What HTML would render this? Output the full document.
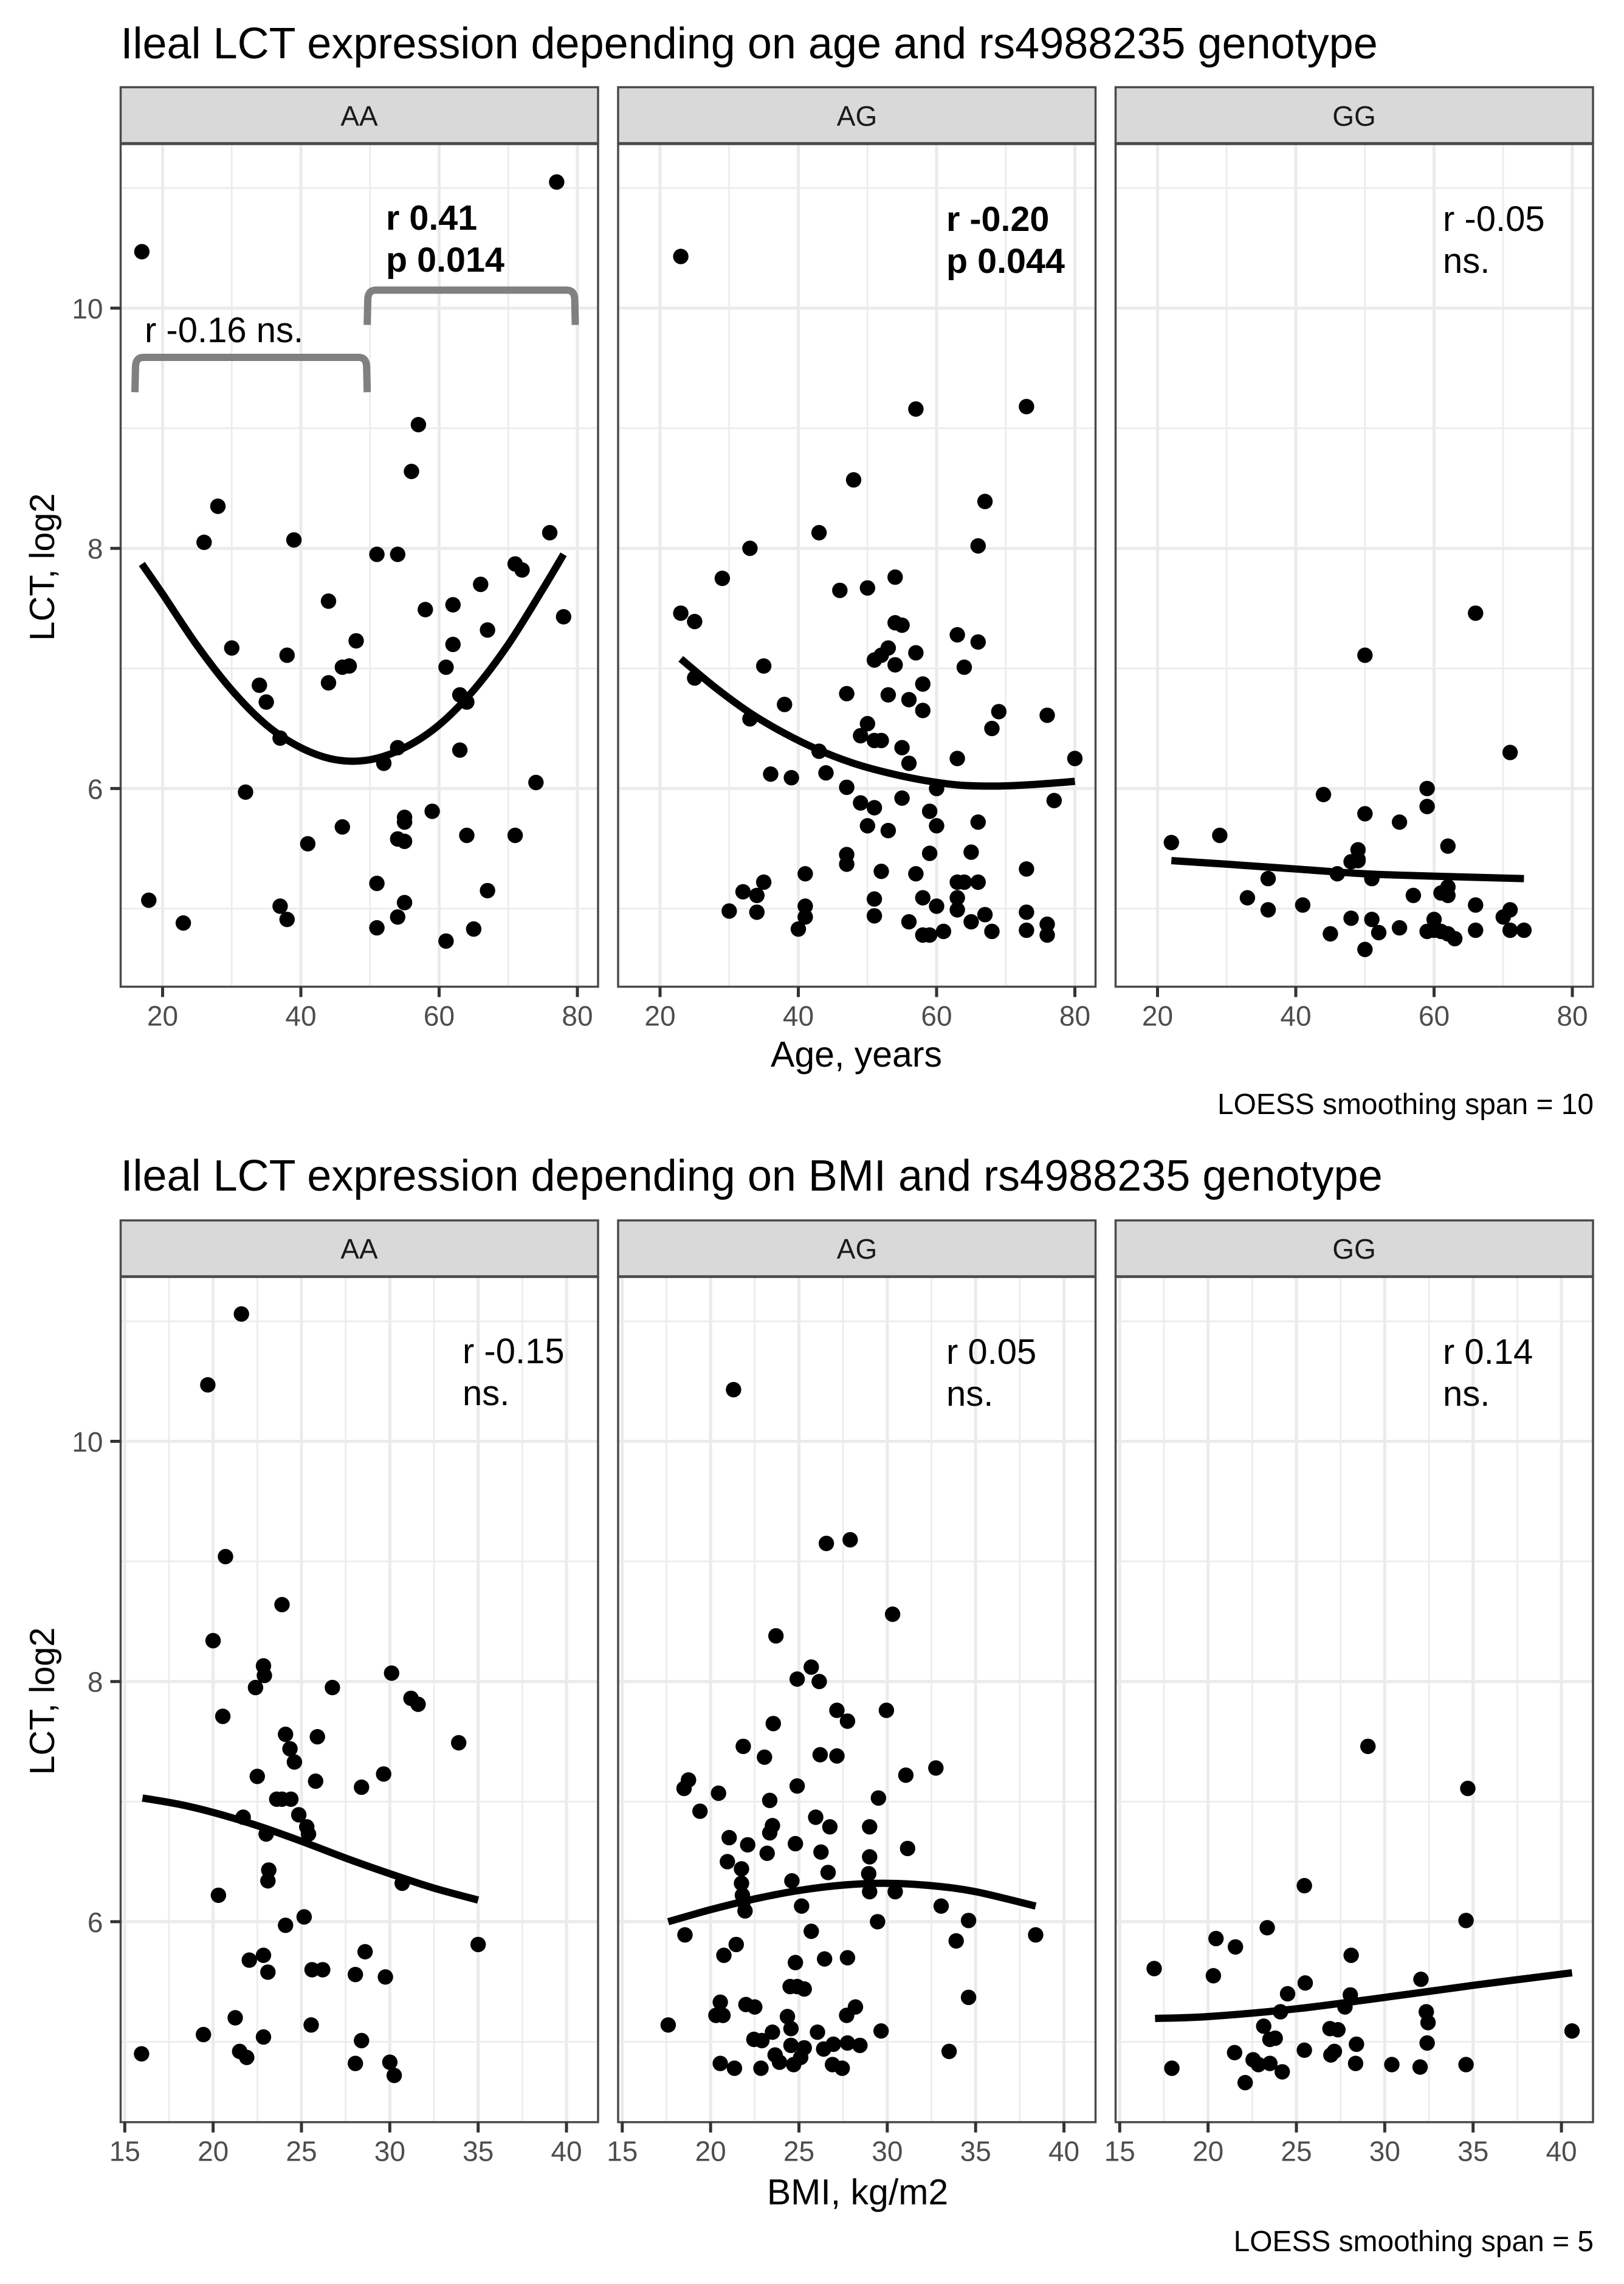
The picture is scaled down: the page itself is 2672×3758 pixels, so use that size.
<!DOCTYPE html>
<html lang="en">
<head>
<meta charset="utf-8">
<title>Ileal LCT expression by age and BMI and rs4988235 genotype</title>
<style>
html,body{margin:0;padding:0;background:#fff;}
svg{display:block;}
text{font-family:"Liberation Sans",Arial,sans-serif;}
.title{font-size:72px;fill:#000;}
.strip-label{font-size:46px;fill:#1a1a1a;text-anchor:middle;}
.axis-title{font-size:59px;fill:#000;}
.y-title{font-size:57.5px;fill:#000;}
.caption{font-size:47.9px;fill:#000;text-anchor:end;}
.note{font-size:58px;fill:#000;}
.note-bold{font-size:57.5px;fill:#000;font-weight:bold;}
.tick-label{font-size:46px;fill:#4d4d4d;}
</style>
</head>
<body>
<svg id="chart" xmlns="http://www.w3.org/2000/svg" width="2672" height="3758" viewBox="0 0 2672 3758">
  <rect x="0" y="0" width="2672" height="3758" fill="#ffffff"/>

  <text class="title" x="198.5" y="96">Ileal LCT expression depending on age and rs4988235 genotype</text>
  <text class="title" x="198.5" y="1959">Ileal LCT expression depending on BMI and rs4988235 genotype</text>

  <g id="marks"></g>

  <g>
    <rect x="198.5" y="143.5" width="785.5" height="92" fill="#d9d9d9" stroke="#4a4a4a" stroke-width="3.5"/>
    <rect x="1017" y="143.5" width="785.5" height="92" fill="#d9d9d9" stroke="#4a4a4a" stroke-width="3.5"/>
    <rect x="1835.5" y="143.5" width="785.5" height="92" fill="#d9d9d9" stroke="#4a4a4a" stroke-width="3.5"/>
    <text class="strip-label" x="591" y="207">AA</text>
    <text class="strip-label" x="1410" y="207">AG</text>
    <text class="strip-label" x="2228" y="207">GG</text>
  </g>
  <g>
    <rect x="198.5" y="2008" width="785.5" height="92" fill="#d9d9d9" stroke="#4a4a4a" stroke-width="3.5"/>
    <rect x="1017" y="2008" width="785.5" height="92" fill="#d9d9d9" stroke="#4a4a4a" stroke-width="3.5"/>
    <rect x="1835.5" y="2008" width="785.5" height="92" fill="#d9d9d9" stroke="#4a4a4a" stroke-width="3.5"/>
    <text class="strip-label" x="591" y="2071">AA</text>
    <text class="strip-label" x="1410" y="2071">AG</text>
    <text class="strip-label" x="2228" y="2071">GG</text>
  </g>

  <g>
    <text class="note-bold" x="635" y="378">r 0.41</text>
    <text class="note-bold" x="635" y="447">p 0.014</text>
    <text class="note" x="238" y="563">r -0.16 ns.</text>
    <text class="note-bold" x="1557" y="380">r -0.20</text>
    <text class="note-bold" x="1557" y="449">p 0.044</text>
    <text class="note" x="2374" y="380">r -0.05</text>
    <text class="note" x="2374" y="449">ns.</text>
  </g>
  <g>
    <text class="note" x="761" y="2243">r -0.15</text>
    <text class="note" x="761" y="2312">ns.</text>
    <text class="note" x="1557" y="2244">r 0.05</text>
    <text class="note" x="1557" y="2313">ns.</text>
    <text class="note" x="2374" y="2244">r 0.14</text>
    <text class="note" x="2374" y="2313">ns.</text>
  </g>

  <text class="axis-title" x="1409" y="1755" text-anchor="middle">Age, years</text>
  <text class="axis-title" x="1411" y="3627" text-anchor="middle">BMI, kg/m2</text>
  <text class="y-title" transform="translate(89,933) rotate(-90)" text-anchor="middle">LCT, log2</text>
  <text class="y-title" transform="translate(89,2799) rotate(-90)" text-anchor="middle">LCT, log2</text>
  <text class="caption" x="2622" y="1833">LOESS smoothing span = 10</text>
  <text class="caption" x="2622" y="3704">LOESS smoothing span = 5</text>
</svg>

<script>
// ---- tick labels ----
const yMajorTicks = [6, 8, 10];
const yMinorTicks = [5, 7, 9, 11];
const ageMajorTicks = [20, 40, 60, 80];
const ageMinorTicks = [30, 50, 70];
const bmiMajorTicks = [15, 20, 25, 30, 35, 40];
const bmiMinorTicks = [17.5, 22.5, 27.5, 32.5, 37.5];

// ---- age vs LCT, genotype AA ----
const ageAA_x = [77,17,57,56,28,26,39,51,54,76,71,72,66,44,58,62,78,67,30,38,48,62,46,47,61,34,44,35,63,64,37,54,52,63,74,32,59,55,55,46,41,54,55,64,71,51,67,18,55,37,54,38,23,51,65,61];
const ageAA_y = [11.05,10.47,9.03,8.64,8.35,8.05,8.07,7.95,7.95,8.13,7.87,7.82,7.70,7.56,7.49,7.53,7.43,7.32,7.17,7.11,7.23,7.20,7.01,7.02,7.01,6.86,6.88,6.72,6.78,6.72,6.42,6.34,6.21,6.32,6.05,5.97,5.81,5.76,5.72,5.68,5.54,5.58,5.56,5.61,5.61,5.21,5.15,5.07,5.05,5.02,4.93,4.91,4.88,4.84,4.83,4.73];
const ageAA_fitX = [17,20,25,30,35,40,45,50,55,60,65,70,75,78];
const ageAA_fitY = [7.87,7.62,7.19,6.82,6.53,6.34,6.24,6.24,6.34,6.53,6.82,7.20,7.66,7.95];

// ---- age vs LCT, genotype AG ----
const ageAG_x = [23,57,73,48,67,43,33,66,29,54,46,50,23,25,54,55,63,66,53,57,52,51,54,35,64,25,58,47,53,56,38,58,69,76,33,50,68,49,51,52,55,43,80,63,56,44,36,39,47,60,55,77,49,51,59,66,60,50,53,47,59,65,47,73,52,41,57,63,64,66,35,32,34,58,63,51,41,60,63,30,34,73,67,51,41,56,65,76,40,73,61,68,58,59,76];
const ageAG_y = [10.43,9.16,9.18,8.57,8.39,8.13,8.00,8.02,7.75,7.76,7.65,7.67,7.46,7.39,7.38,7.36,7.28,7.22,7.17,7.13,7.11,7.07,7.03,7.02,7.01,6.92,6.87,6.79,6.78,6.74,6.70,6.65,6.64,6.61,6.58,6.54,6.50,6.44,6.40,6.40,6.34,6.31,6.25,6.25,6.21,6.13,6.12,6.09,6.01,6.00,5.92,5.90,5.88,5.84,5.81,5.72,5.69,5.69,5.65,5.45,5.46,5.47,5.37,5.33,5.31,5.29,5.29,5.22,5.22,5.22,5.22,5.14,5.11,5.09,5.09,5.08,5.02,5.02,4.99,4.98,4.97,4.97,4.95,4.94,4.93,4.89,4.89,4.87,4.83,4.82,4.81,4.81,4.78,4.78,4.78];
const ageAG_fitX = [23,28,33,38,43,48,53,58,63,68,73,78,80];
const ageAG_fitY = [7.08,6.84,6.63,6.46,6.32,6.21,6.13,6.07,6.03,6.02,6.03,6.05,6.06];

// ---- age vs LCT, genotype GG ----
const ageGG_x = [66,50,71,59,44,59,50,55,29,22,62,49,49,48,49,36,46,51,33,57,61,62,62,66,41,36,71,70,48,51,60,55,59,60,61,62,63,66,71,73,45,52,50];
const ageGG_y = [7.46,7.11,6.30,6.00,5.95,5.85,5.79,5.72,5.61,5.55,5.52,5.49,5.41,5.39,5.40,5.25,5.29,5.25,5.09,5.11,5.13,5.18,5.11,5.03,5.03,4.99,4.99,4.93,4.92,4.91,4.91,4.84,4.81,4.82,4.81,4.79,4.75,4.82,4.82,4.82,4.79,4.80,4.66];
const ageGG_fitX = [22,30,40,50,60,73];
const ageGG_fitY = [5.40,5.37,5.33,5.29,5.27,5.25];

// ---- BMI vs LCT, genotype AA ----
const bmiAA_x = [21.6,19.7,20.7,23.9,20.0,22.85,22.9,22.4,26.75,30.1,31.2,31.6,20.55,24.1,25.9,33.9,24.35,24.6,22.5,29.65,25.8,28.4,23.6,23.9,24.4,24.85,21.7,25.3,25.4,23.0,23.15,23.1,30.7,20.3,25.15,24.1,35,28.6,22.85,22.05,25.6,26.2,23.1,28.05,29.75,21.25,25.55,19.45,22.85,28.4,15.95,21.5,21.9,28.05,30.0,30.25];
const bmiAA_y = [11.06,10.47,9.04,8.64,8.34,8.13,8.05,7.95,7.95,8.07,7.86,7.81,7.71,7.56,7.54,7.49,7.44,7.33,7.21,7.23,7.17,7.12,7.02,7.02,7.02,6.89,6.87,6.79,6.73,6.73,6.43,6.34,6.32,6.22,6.04,5.97,5.81,5.75,5.72,5.68,5.60,5.60,5.58,5.56,5.54,5.20,5.14,5.06,5.04,5.01,4.90,4.92,4.87,4.82,4.83,4.72];
const bmiAA_fitX = [16,18,20,22.5,25,27.5,30,32.5,35];
const bmiAA_fitY = [7.03,6.98,6.91,6.80,6.67,6.53,6.40,6.28,6.18];

// ---- BMI vs LCT, genotype AG ----
const bmiAG_x = [21.3,26.55,27.9,30.3,23.7,25.7,24.9,26.15,27.15,29.95,27.75,23.55,21.85,26.2,23.05,27.15,32.75,31.05,24.9,18.75,18.5,20.45,29.5,23.35,19.4,25.95,23.5,23.35,26.75,29.0,21.05,22.1,24.8,31.15,26.25,23.2,29,20.95,21.75,28.95,26.65,24.6,21.75,21.8,29,30.45,21.85,21.95,25.15,33.05,34.6,29.45,18.55,38.4,25.7,33.9,21.45,20.75,26.45,27.75,24.8,24.5,24.9,25.3,34.6,20.55,22,22.5,28.2,24.35,27.7,20.3,20.7,17.6,24.55,29.65,26.05,23.5,22.45,22.9,27.75,26.95,28.45,24.55,25.3,26.4,33.5,23.65,25.1,23.9,24.7,20.55,26.9,21.35,22.85,27.45];
const bmiAG_y = [10.43,9.15,9.18,8.56,8.38,8.12,8.02,8.0,7.76,7.76,7.67,7.65,7.46,7.39,7.37,7.38,7.28,7.22,7.13,7.18,7.11,7.07,7.03,7.01,6.92,6.87,6.80,6.74,6.79,6.79,6.70,6.64,6.65,6.61,6.58,6.57,6.54,6.50,6.44,6.40,6.41,6.34,6.32,6.22,6.25,6.25,6.17,6.09,6.13,6.13,6.01,6.00,5.89,5.89,5.92,5.84,5.81,5.72,5.69,5.70,5.66,5.46,5.46,5.44,5.37,5.33,5.31,5.29,5.29,5.21,5.22,5.22,5.22,5.14,5.11,5.09,5.08,5.08,5.02,5.01,4.99,4.98,4.97,4.97,4.95,4.94,4.92,4.89,4.87,4.83,4.81,4.82,4.81,4.78,4.78,4.78];
const bmiAG_fitX = [17.6,20,22.5,25,27.5,30,32.5,35,38.4];
const bmiAG_fitY = [6.0,6.10,6.19,6.26,6.305,6.32,6.30,6.25,6.13];

// ---- BMI vs LCT, genotype GG ----
const bmiGG_x = [29.05,34.7,25.45,34.6,23.35,20.45,21.55,28.1,16.95,20.3,32.05,25.5,24.5,28.05,27.75,24.1,32.35,32.45,23.15,26.9,27.35,40.6,23.5,23.8,28.4,32.4,25.45,27.15,26.95,21.5,22.55,22.85,23.5,24.2,17.95,28.35,30.4,32,34.6,22.1];
const bmiGG_y = [7.46,7.11,6.30,6.01,5.95,5.86,5.79,5.72,5.61,5.55,5.52,5.49,5.40,5.39,5.29,5.25,5.25,5.16,5.13,5.11,5.10,5.09,5.02,5.03,4.98,4.99,4.93,4.92,4.89,4.91,4.85,4.81,4.82,4.75,4.78,4.82,4.81,4.79,4.81,4.66];
const bmiGG_fitX = [17,20,25,30,35,40.6];
const bmiGG_fitY = [5.195,5.21,5.275,5.37,5.47,5.575];

// ---- AA age brackets (age and LCT units) ----
const bracketLeftAge = [16, 49.6];
const bracketRightAge = [49.6, 79.7];
const bracketTopLct = [9.59, 10.15];
const bracketFootLct = [9.30, 9.86];

// ---- layout helpers ----
const SVGNS = 'http://www.w3.org/2000/svg';
const root = document.getElementById('marks');
const panelLefts = [198.5, 1017, 1835.5];
const panelWidth = 785.5;

function ageScale(left) { return function (v) { return left + 69 + (v - 20) * 11.375; }; }
function bmiScale(left) { return function (v) { return left + 6.8 + (v - 15) * 29.07; }; }
function lctScale(y10) { return function (v) { return y10 + (10 - v) * 197.6; }; }

function lineEl(parent, x1, y1, x2, y2, color, width) {
  const el = document.createElementNS(SVGNS, 'line');
  el.setAttribute('x1', x1);
  el.setAttribute('y1', y1);
  el.setAttribute('x2', x2);
  el.setAttribute('y2', y2);
  el.setAttribute('stroke', color);
  el.setAttribute('stroke-width', width);
  parent.appendChild(el);
  return el;
}

function smoothPath(px, py) {
  let d = 'M' + px[0].toFixed(1) + ' ' + py[0].toFixed(1);
  for (let i = 0; i < px.length - 1; i++) {
    const a = Math.max(i - 1, 0), b = i + 1, c = Math.min(i + 2, px.length - 1);
    const c1x = px[i] + (px[b] - px[a]) / 6, c1y = py[i] + (py[b] - py[a]) / 6;
    const c2x = px[b] - (px[c] - px[i]) / 6, c2y = py[b] - (py[c] - py[i]) / 6;
    d += 'C' + c1x.toFixed(1) + ' ' + c1y.toFixed(1) + ' ' + c2x.toFixed(1) + ' ' + c2y.toFixed(1) + ' ' + px[b].toFixed(1) + ' ' + py[b].toFixed(1);
  }
  return d;
}

function drawPanel(prefix, left, top, bottom, xFn, yFn, xMajor, xMinor, xs, ys, fitX, fitY, showY) {
  const g = document.createElementNS(SVGNS, 'g');
  
  
  root.appendChild(g);
  const right = left + panelWidth;

  yMinorTicks.forEach(function (v) {
    const el = lineEl(g, left, yFn(v), right, yFn(v), '#ebebeb', 2.6);
    
    
  });
  xMinor.forEach(function (v) {
    const el = lineEl(g, xFn(v), top, xFn(v), bottom, '#ebebeb', 2.6);
    
    
  });
  yMajorTicks.forEach(function (v) {
    const el = lineEl(g, left, yFn(v), right, yFn(v), '#ebebeb', 5);
    
    
  });
  xMajor.forEach(function (v) {
    const el = lineEl(g, xFn(v), top, xFn(v), bottom, '#ebebeb', 5);
    
    
  });

  xs.forEach(function (v, i) {
    const dot = document.createElementNS(SVGNS, 'circle');
    dot.setAttribute('cx', xFn(v).toFixed(1));
    dot.setAttribute('cy', yFn(ys[i]).toFixed(1));
    dot.setAttribute('r', 12.7);
    dot.setAttribute('fill', '#000');
    
    
    g.appendChild(dot);
  });

  const fit = document.createElementNS(SVGNS, 'path');
  fit.setAttribute('d', smoothPath(fitX.map(xFn), fitY.map(yFn)));
  fit.setAttribute('fill', 'none');
  fit.setAttribute('stroke', '#000');
  fit.setAttribute('stroke-width', 12);
  
  
  g.appendChild(fit);

  const border = document.createElementNS(SVGNS, 'rect');
  border.setAttribute('x', left);
  border.setAttribute('y', top);
  border.setAttribute('width', panelWidth);
  border.setAttribute('height', bottom - top);
  border.setAttribute('fill', 'none');
  border.setAttribute('stroke', '#4a4a4a');
  border.setAttribute('stroke-width', 3.5);
  
  
  g.appendChild(border);

  xMajor.forEach(function (v) {
    const t = lineEl(g, xFn(v), bottom, xFn(v), bottom + 17, '#333333', 5);
    
    
    const label = document.createElementNS(SVGNS, 'text');
    label.setAttribute('class', 'tick-label');
    label.setAttribute('x', xFn(v));
    label.setAttribute('y', bottom + 64);
    label.setAttribute('text-anchor', 'middle');
    
    
    label.textContent = String(v);
    g.appendChild(label);
  });

  if (showY) {
    yMajorTicks.forEach(function (v) {
      const t = lineEl(g, left - 17, yFn(v), left, yFn(v), '#333333', 5);
      
      
      const label = document.createElementNS(SVGNS, 'text');
      label.setAttribute('class', 'tick-label');
      label.setAttribute('x', left - 29);
      label.setAttribute('y', yFn(v) + 17);
      label.setAttribute('text-anchor', 'end');
      
      
      label.textContent = String(v);
      g.appendChild(label);
    });
  }
}

const yAge = lctScale(507);
const yBmi = lctScale(2371.5);

drawPanel('age-aa', panelLefts[0], 237, 1623.5, ageScale(panelLefts[0]), yAge, ageMajorTicks, ageMinorTicks, ageAA_x, ageAA_y, ageAA_fitX, ageAA_fitY, true);
drawPanel('age-ag', panelLefts[1], 237, 1623.5, ageScale(panelLefts[1]), yAge, ageMajorTicks, ageMinorTicks, ageAG_x, ageAG_y, ageAG_fitX, ageAG_fitY, false);
drawPanel('age-gg', panelLefts[2], 237, 1623.5, ageScale(panelLefts[2]), yAge, ageMajorTicks, ageMinorTicks, ageGG_x, ageGG_y, ageGG_fitX, ageGG_fitY, false);

drawPanel('bmi-aa', panelLefts[0], 2101, 3491.7, bmiScale(panelLefts[0]), yBmi, bmiMajorTicks, bmiMinorTicks, bmiAA_x, bmiAA_y, bmiAA_fitX, bmiAA_fitY, true);
drawPanel('bmi-ag', panelLefts[1], 2101, 3491.7, bmiScale(panelLefts[1]), yBmi, bmiMajorTicks, bmiMinorTicks, bmiAG_x, bmiAG_y, bmiAG_fitX, bmiAG_fitY, false);
drawPanel('bmi-gg', panelLefts[2], 2101, 3491.7, bmiScale(panelLefts[2]), yBmi, bmiMajorTicks, bmiMinorTicks, bmiGG_x, bmiGG_y, bmiGG_fitX, bmiGG_fitY, false);

const xAgeAA = ageScale(panelLefts[0]);
bracketLeftAge.forEach(function (v, i) {
  const xl = xAgeAA(v), xr = xAgeAA(bracketRightAge[i]);
  const yt = yAge(bracketTopLct[i]), yb = yAge(bracketFootLct[i]);
  const d = 'M' + xl + ' ' + yb + 'L' + (xl + 1) + ' ' + (yt + 14) + 'Q' + (xl + 2) + ' ' + yt + ' ' + (xl + 14) + ' ' + yt +
            'L' + (xr - 14) + ' ' + yt + 'Q' + (xr - 2) + ' ' + yt + ' ' + (xr - 1) + ' ' + (yt + 14) + 'L' + xr + ' ' + yb;
  const b = document.createElementNS(SVGNS, 'path');
  b.setAttribute('d', d);
  b.setAttribute('fill', 'none');
  b.setAttribute('stroke', '#808080');
  b.setAttribute('stroke-width', 12);
  
  
  root.appendChild(b);
});
</script>
</body>
</html>
